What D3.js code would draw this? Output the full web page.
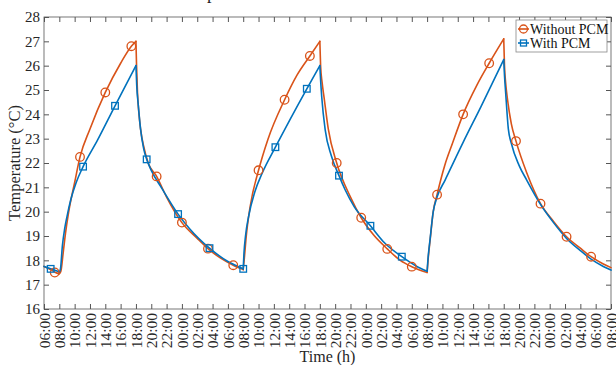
<!DOCTYPE html>
<html><head><meta charset="utf-8">
<script src="https://cdn.jsdelivr.net/npm/d3@7"></script>
<style>body{margin:0;background:#fff}svg{display:block}text{font-family:"Liberation Serif","Times New Roman",serif}</style>
</head><body>
<svg id="c" width="616" height="365"></svg>
<script>
// hours since 06:00 on day 1
const tWithout = [0,1,1.5,2,2.2,2.5,2.8,3.2,4,4.7,6,8,10,11.4,12,
 12.08,12.2,12.4,12.6,13,13.6,14.7,16,18,20,21.4,23,24.7,26,
 26.15,26.4,26.9,28,29.2,31.4,33,34.7,36,
 36.1,36.3,36.55,37.1,38.2,40,41.4,43,44.8,46.5,48,50,
 50.15,50.4,50.8,51.3,52.3,53.3,54.7,56.5,58.1,60,
 60.1,60.25,60.5,61,61.6,63,64.8,66.5,68.2,70,71.4,73,74];
const tempWithout = [17.75,17.6,17.5,17.45,17.55,18.3,19.1,19.95,21.2,22.25,23.4,24.9,26.1,26.8,27.0,
 26.0,24.9,24.0,23.4,22.7,22.0,21.45,20.6,19.55,18.9,18.48,18.1,17.8,17.62,
 18.1,19.0,20.2,21.7,22.95,24.6,25.6,26.4,27.0,
 26.0,25.3,24.7,23.4,22.0,20.6,19.75,19.05,18.47,18.0,17.74,17.5,
 18.1,18.85,20.0,20.7,21.9,22.8,24.0,25.2,26.1,27.1,
 26.0,25.3,24.6,23.6,22.9,21.6,20.33,19.6,18.97,18.5,18.15,17.85,17.7];
const tWith = [0,0.87,1.5,2,2.15,2.4,2.7,3.0,3.5,4.2,5.1,7,9.27,12,
 12.1,12.3,12.6,13,13.4,14,15.4,17.5,19,21.6,24,26,
 26.1,26.3,26.7,27.5,28.5,30.2,34.3,36,
 36.1,36.25,36.7,37.5,38.5,39.3,40.5,42.6,44.5,46.7,48.5,50,
 50.1,50.4,50.8,51.3,52.35,54.7,57,60,
 60.1,60.25,60.6,61,62,63,64.8,66.5,68.2,70,71.4,73,74];
const tempWith = [17.75,17.65,17.58,17.52,17.65,18.6,19.3,19.8,20.5,21.2,21.85,22.95,24.35,26.0,
 25.2,24.4,23.4,22.6,22.15,21.7,20.95,19.9,19.3,18.5,17.95,17.65,
 18.3,19.0,19.8,20.8,21.6,22.65,25.05,26.0,
 25.4,24.7,23.36,22.3,21.48,20.9,20.2,19.42,18.7,18.15,17.78,17.55,
 18.0,18.9,20.0,20.6,21.3,22.85,24.3,26.25,
 25.6,24.9,23.4,22.8,21.9,21.3,20.3,19.55,18.9,18.4,18.05,17.75,17.6];
const markTWithout = [1.4,4.7,8,11.4,14.7,18,21.4,24.7,28,31.4,34.7,38.2,41.4,44.8,48,51.3,54.7,58.1,61.6,64.8,68.2,71.4];
const markVWithout = [17.5,22.25,24.9,26.8,21.45,19.55,18.48,17.8,21.7,24.6,26.4,22.0,19.75,18.47,17.74,20.7,24.0,26.1,22.9,20.33,18.97,18.15];
const markTWith = [0.87,5.1,9.27,13.4,17.5,21.6,26,30.2,34.3,38.5,42.6,46.7];
const markVWith = [17.65,21.85,24.35,22.15,19.9,18.5,17.65,22.65,25.05,21.48,19.42,18.15];
const xTickLabels = ["06:00","08:00","10:00","12:00","14:00","16:00","18:00","20:00","22:00","00:00","02:00","04:00","06:00","08:00","10:00","12:00","14:00","16:00","18:00","20:00","22:00","00:00","02:00","04:00","06:00","08:00","10:00","12:00","14:00","16:00","18:00","20:00","22:00","00:00","02:00","04:00","06:00","08:00"];
const yTicks = [16,17,18,19,20,21,22,23,24,25,26,27,28];
const seriesNames = ["Without PCM","With PCM"];

const cOrange = "#D95319", cBlue = "#0072BD";
const svg = d3.select("#c");
const L=44, R=611, T=17, B=309;
const x = d3.scaleLinear().domain([0,74]).range([L,R]);
const y = d3.scaleLinear().domain([16,28]).range([B,T]);
const xTickVals = xTickLabels.map((d,i)=>i*2);
const axisCol = "#555";

// cropped caption fragment at the top
svg.append("text").attr("x",207).attr("y",-1).attr("font-size",18).attr("fill","#222").text("p");

// frame
svg.append("rect").attr("x",L).attr("y",T).attr("width",R-L).attr("height",B-T).attr("fill","none").attr("stroke",axisCol).attr("stroke-width",0.8);

const gx = svg.append("g").attr("transform",`translate(0,${B})`)
 .call(d3.axisBottom(x).tickValues(xTickVals).tickSizeInner(-5).tickSizeOuter(0).tickFormat((d,i)=>xTickLabels[i]));
gx.select(".domain").remove();
gx.selectAll("line").attr("stroke",axisCol);
gx.selectAll("text").attr("transform","rotate(-90)").attr("text-anchor","end").attr("x",-4).attr("y",0).attr("dy","0.34em")
 .attr("font-size",15.5).attr("fill","#262626");
const gxt = svg.append("g").attr("transform",`translate(0,${T})`)
 .call(d3.axisTop(x).tickValues(xTickVals).tickSizeInner(-5).tickSizeOuter(0).tickFormat(""));
gxt.select(".domain").remove(); gxt.selectAll("line").attr("stroke",axisCol);

const gy = svg.append("g").attr("transform",`translate(${L},0)`)
 .call(d3.axisLeft(y).tickValues(yTicks).tickSizeInner(-5).tickSizeOuter(0).tickPadding(4));
gy.select(".domain").remove(); gy.selectAll("line").attr("stroke",axisCol);
gy.selectAll("text").attr("font-size",15).attr("fill","#262626");
const gyr = svg.append("g").attr("transform",`translate(${R},0)`)
 .call(d3.axisRight(y).tickValues(yTicks).tickSizeInner(-5).tickSizeOuter(0).tickFormat(""));
gyr.select(".domain").remove(); gyr.selectAll("line").attr("stroke",axisCol);

svg.append("text").attr("x",(L+R)/2).attr("y",362).attr("text-anchor","middle").attr("font-size",16).attr("fill","#262626").text("Time (h)");
svg.append("text").attr("transform",`translate(20,${(T+B)/2}) rotate(-90)`).attr("text-anchor","middle").attr("font-size",16.5).attr("fill","#262626").text("Temperature (°C)");

// split a series into monotone runs so that peaks and troughs stay sharp
function runs(ts, vs){
  const pts = ts.map((t,i)=>[t,vs[i]]);
  const out=[]; let cur=[pts[0]];
  for(let i=1;i<pts.length;i++){
    cur.push(pts[i]);
    if(i<pts.length-1){
      const a=pts[i][1]-pts[i-1][1], b=pts[i+1][1]-pts[i][1];
      if(a*b<0){ out.push(cur); cur=[pts[i]]; }
    }
  }
  out.push(cur); return out;
}
const line = d3.line().x(d=>x(d[0])).y(d=>y(d[1])).curve(d3.curveMonotoneX);
const plot = svg.append("g");
[[tWithout,tempWithout,cOrange],[tWith,tempWith,cBlue]].forEach(([ts,vs,c])=>{
  plot.append("g").selectAll("path").data(runs(ts,vs)).join("path").attr("d",line)
   .attr("fill","none").attr("stroke",c).attr("stroke-width",1.6).attr("stroke-linecap","round");
});
plot.selectAll(".mo").data(markTWithout.map((t,i)=>[t,markVWithout[i]])).join("circle")
 .attr("cx",d=>x(d[0])).attr("cy",d=>y(d[1])).attr("r",4.3).attr("fill","none").attr("stroke",cOrange).attr("stroke-width",1.3);
plot.selectAll(".mb").data(markTWith.map((t,i)=>[t,markVWith[i]])).join("rect")
 .attr("x",d=>x(d[0])-3.3).attr("y",d=>y(d[1])-3.3).attr("width",6.6).attr("height",6.6).attr("fill","none").attr("stroke",cBlue).attr("stroke-width",1.3);

// legend
const lg = svg.append("g");
lg.append("rect").attr("x",516).attr("y",20).attr("width",91).attr("height",32).attr("fill","#fff").attr("stroke","#888").attr("stroke-width",0.8);
[cOrange,cBlue].forEach((c,i)=>{
  const yy = 29 + i*14;
  lg.append("line").attr("x1",518).attr("x2",529).attr("y1",yy).attr("y2",yy).attr("stroke",c).attr("stroke-width",1.6);
  if(i===0) lg.append("circle").attr("cx",523.5).attr("cy",yy).attr("r",4).attr("fill","none").attr("stroke",c).attr("stroke-width",1.3);
  else lg.append("rect").attr("x",520.5).attr("y",yy-3).attr("width",6).attr("height",6).attr("fill","none").attr("stroke",c).attr("stroke-width",1.3);
  lg.append("text").attr("x",530).attr("y",yy).attr("dy","0.35em").attr("font-size",14).attr("fill","#111").text(seriesNames[i]);
});
</script>
</body></html>
